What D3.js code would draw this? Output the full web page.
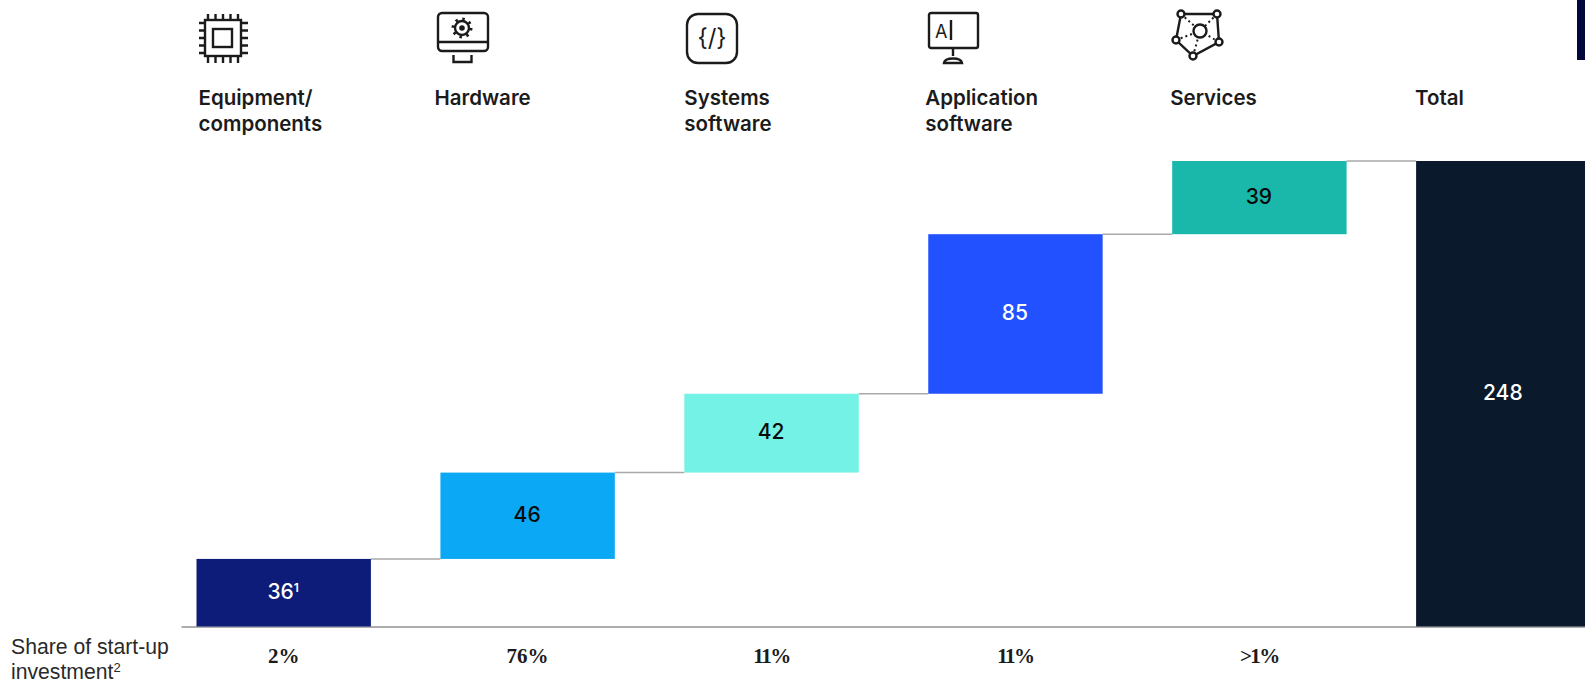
<!DOCTYPE html>
<html>
<head>
<meta charset="utf-8">
<script src="https://cdn.jsdelivr.net/npm/d3@7"></script>
<style>
html,body{margin:0;padding:0;background:#fff;overflow:hidden}
svg{display:block}
text{font-family:Inter,"Liberation Sans",sans-serif}
</style>
</head>
<body>
<svg id="chart" width="1585" height="685"></svg>
<script>
// Value chain categories and their contributions
const categoryKeys = ["equipment", "hardware", "systems", "application", "services", "total"];
const categoryLines = [["Equipment/", "components"], ["Hardware"], ["Systems", "software"], ["Application", "software"], ["Services"], ["Total"]];
const stepValues = [36, 46, 42, 85, 39];
const totalValue = 248;
const valueNotes = ["1", "", "", "", "", ""];
const startupShares = ["2%", "76%", "11%", "11%", ">1%", ""];
const barColors = ["#0c1c78", "#0ba8f5", "#74f2e6", "#2251ff", "#19b8aa", "#0a1a2c"];
const labelColors = ["#ffffff", "#0a0a0a", "#0a0a0a", "#ffffff", "#0a0a0a", "#ffffff"];

const svg = d3.select("#chart");
const ink = "#1b1b1b";

const x = d3.scaleBand().domain(categoryKeys).range([196.5, 1590.5]).paddingInner(0.285);
const y = d3.scaleLinear().domain([0, totalValue]).range([626.5, 161]);

// Each step floats on the running sum of those before it; the total starts at zero
const ends = Array.from(d3.cumsum(stepValues));
const rows = categoryKeys.map((key, i) => i < stepValues.length
  ? {key, i, from: i ? ends[i - 1] : 0, to: ends[i], value: stepValues[i]}
  : {key, i, from: 0, to: totalValue, value: totalValue});

// Connectors between neighbouring bars
svg.append("g").selectAll("line").data(rows.slice(0, -1)).join("line")
  .attr("x1", d => x(d.key) + x.bandwidth())
  .attr("x2", d => x(categoryKeys[d.i + 1]))
  .attr("y1", d => y(d.to)).attr("y2", d => y(d.to))
  .attr("stroke", "#a9a9a9").attr("stroke-width", 1.5);

// Baseline drawn through the axis generator, without ticks
const baseline = svg.append("g").attr("transform", `translate(0,${y(0)})`)
  .call(d3.axisBottom(d3.scaleLinear().domain([0, 1]).range([181, 1585])).tickValues([]).tickSize(0));
baseline.select(".domain").attr("stroke", "#adadad").attr("stroke-width", 2);

svg.append("g").selectAll("rect").data(rows).join("rect")
  .attr("x", d => x(d.key)).attr("width", x.bandwidth())
  .attr("y", d => y(d.to)).attr("height", d => y(d.from) - y(d.to))
  .attr("fill", d => barColors[d.i]);

// Value labels, centred in the bars
const valueText = svg.append("g").selectAll("text").data(rows).join("text")
  .attr("x", d => x(d.key) + x.bandwidth() / 2 - 0.5)
  .attr("y", d => (y(d.from) + y(d.to)) / 2 + 6)
  .attr("text-anchor", "middle").attr("font-size", 21).attr("font-weight", 500)
  .attr("fill", d => labelColors[d.i])
  .text(d => d.value);
valueText.filter(d => valueNotes[d.i]).append("tspan")
  .attr("font-size", 12).attr("font-weight", 600).attr("dy", -7).text(d => valueNotes[d.i]);

// Category headings
const headingOffsets = [2, -6, 0, -3, -2, -1];
const heads = svg.append("g").selectAll("text").data(rows).join("text")
  .attr("font-size", 20.5).attr("font-weight", 600).attr("fill", ink);
heads.selectAll("tspan").data(d => categoryLines[d.i].map(line => ({line, i: d.i}))).join("tspan")
  .attr("x", d => x(categoryKeys[d.i]) + headingOffsets[d.i])
  .attr("y", (d, j) => 104.5 + j * 26)
  .text(d => d.line);

// Share row; the serif figure 1 sets wide, so those labels are tracked in
svg.append("g").selectAll("text").data(rows).join("text")
  .attr("x", d => x(d.key) + x.bandwidth() / 2)
  .attr("y", 663).attr("text-anchor", "middle")
  .attr("font-size", 21).attr("font-weight", 700).attr("fill", ink)
  .style("font-family", "'Liberation Serif',serif")
  .style("letter-spacing", d => startupShares[d.i].includes("1") ? "-1.5px" : null)
  .text(d => startupShares[d.i]);

const rowTitle = svg.append("text").attr("font-size", 21.2).attr("fill", "#2a2a2a")
  .style("font-family", "'Liberation Sans',sans-serif");
rowTitle.append("tspan").attr("x", 11).attr("y", 654).text("Share of start-up");
rowTitle.append("tspan").attr("x", 11).attr("y", 679).text("investment");
rowTitle.append("tspan").attr("font-size", 13).attr("dy", -7).text("2");

// Icons above the headings
const icons = svg.append("g").attr("fill", "none").attr("stroke", ink).attr("stroke-width", 2.4);

const chip = icons.append("g").attr("transform", "translate(197,12)");
chip.append("rect").attr("x", 8).attr("y", 8).attr("width", 36).attr("height", 36);
chip.append("rect").attr("x", 16).attr("y", 17).attr("width", 19).attr("height", 18);
d3.range(5).forEach(k => {
  const p = 11 + k * 7.5;
  chip.append("path").attr("d", `M${p} 2V8M${p} 44V51M2 ${p}H8M44 ${p}H51`);
});

const monitor = icons.append("g").attr("transform", "translate(437,12)");
monitor.append("rect").attr("x", 1).attr("y", 1).attr("width", 50).attr("height", 38).attr("rx", 4);
monitor.append("path").attr("d", "M1 30H51M16.5 43V50H34.5V43");
monitor.append("circle").attr("cx", 25).attr("cy", 16).attr("r", 7);
monitor.append("circle").attr("cx", 25).attr("cy", 16).attr("r", 1.6).attr("fill", ink);
monitor.append("circle").attr("cx", 25).attr("cy", 16).attr("r", 9).attr("stroke-dasharray", "2.5 4.57").attr("stroke-width", 3);

const code = icons.append("g").attr("transform", "translate(686,13)");
code.append("rect").attr("x", 1).attr("y", 1).attr("width", 50).attr("height", 49).attr("rx", 11);
code.append("text").attr("x", 26).attr("y", 33).attr("text-anchor", "middle")
  .attr("fill", ink).attr("stroke", "none").attr("font-size", 24).text("{/}");

const screen = icons.append("g").attr("transform", "translate(928,12)");
screen.append("rect").attr("x", 1).attr("y", 1).attr("width", 49).attr("height", 35).attr("rx", 2);
screen.append("path").attr("d", "M25 37V44M16 51C17 45 33 45 34 51ZM23 8V28");
screen.append("text").attr("x", 7).attr("y", 26).attr("fill", ink).attr("stroke", "none").attr("font-size", 18).text("A");

const net = icons.append("g").attr("transform", "translate(1172,8)");
const nodes = [[9, 6], [45, 6], [47, 34], [21, 48], [4, 32]];
net.append("path").attr("d", d3.line().curve(d3.curveLinearClosed)(nodes));
nodes.forEach(n => net.append("line").attr("x1", n[0]).attr("y1", n[1]).attr("x2", 28).attr("y2", 23)
  .attr("stroke-dasharray", "2 3").attr("stroke-width", 2));
net.append("circle").attr("cx", 28).attr("cy", 23).attr("r", 6.5).attr("fill", "#fff");
net.selectAll(".node").data(nodes).join("circle").attr("class", "node")
  .attr("cx", n => n[0]).attr("cy", n => n[1]).attr("r", 3.5).attr("fill", "#fff");

// Dark tab in the top corner
svg.append("rect").attr("x", 1577).attr("y", 0).attr("width", 8).attr("height", 60).attr("fill", "#03083a");
</script>
</body>
</html>
